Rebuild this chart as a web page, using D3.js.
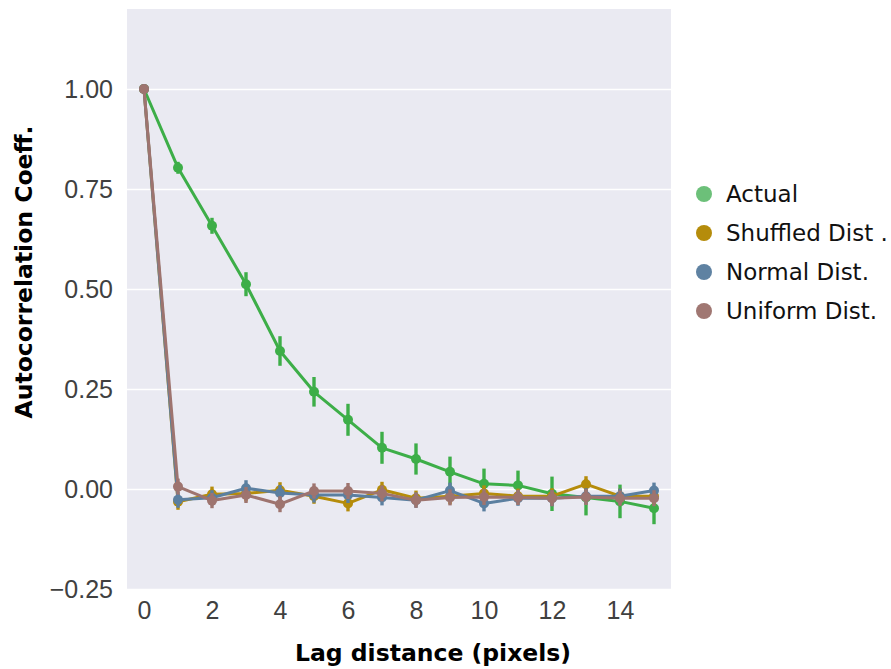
<!DOCTYPE html>
<html>
<head>
<meta charset="utf-8">
<script src="https://cdn.jsdelivr.net/npm/d3@7"></script>
<style>
  body { margin: 0; background: #fff; }
  svg { display: block; }
</style>
</head>
<body>
<svg id="chart" width="891" height="669"></svg>
<script>
// lag distances 0..15
const lags = d3.range(0, 16);

const actual   = [1.00, 0.803, 0.658, 0.512, 0.345, 0.243, 0.173, 0.103, 0.075, 0.043, 0.013, 0.009, -0.012, -0.021, -0.031, -0.048];
const actualErr = [0.0, 0.015, 0.02, 0.03, 0.037, 0.037, 0.04, 0.04, 0.039, 0.038, 0.038, 0.037, 0.043, 0.045, 0.042, 0.04];

const shuffled = [1.00, -0.032, -0.013, -0.011, -0.003, -0.018, -0.036, -0.002, -0.023, -0.018, -0.011, -0.018, -0.018, 0.012, -0.018, -0.018];
const normal   = [1.00, -0.027, -0.022, 0.002, -0.010, -0.015, -0.015, -0.021, -0.028, -0.004, -0.036, -0.023, -0.023, -0.018, -0.018, -0.004];
const uniform  = [1.00, 0.006, -0.029, -0.015, -0.038, -0.005, -0.005, -0.011, -0.028, -0.021, -0.020, -0.021, -0.023, -0.020, -0.023, -0.023];
const nullErr  = [0.0, 0.02, 0.019, 0.02, 0.02, 0.019, 0.02, 0.02, 0.019, 0.02, 0.02, 0.019, 0.02, 0.02, 0.019, 0.02];

const seriesNames = ["Actual", "Shuffled Dist .", "Normal Dist.", "Uniform Dist."];
const seriesColors = ["#3dae48", "#b58c0b", "#5b7fa0", "#9e746f"];
const legendColors = ["#6cc079", "#b58c0b", "#5f82a2", "#a07772"];

const yTicks = [-0.25, 0.00, 0.25, 0.50, 0.75, 1.00];
const xTicks = [0, 2, 4, 6, 8, 10, 12, 14];

const series = [
  { name: seriesNames[0], values: actual, err: actualErr },
  { name: seriesNames[1], values: shuffled, err: nullErr },
  { name: seriesNames[2], values: normal, err: nullErr },
  { name: seriesNames[3], values: uniform, err: nullErr }
];

const svg = d3.select('#chart');

const plotLeft = 127, plotRight = 671, plotTop = 9, plotBottom = 589;

const x = d3.scaleLinear().domain([-0.5, 15.5]).range([plotLeft, plotRight]);
const y = d3.scaleLinear().domain([-0.25, 1.2]).range([plotBottom, plotTop]);

// background
svg.append('rect')
  .attr('x', plotLeft).attr('y', plotTop)
  .attr('width', plotRight - plotLeft).attr('height', plotBottom - plotTop)
  .attr('fill', '#eaeaf2');

// horizontal grid
svg.append('g')
  .attr('transform', `translate(${plotLeft},0)`)
  .call(d3.axisLeft(y).tickValues(yTicks).tickSize(-(plotRight - plotLeft)).tickFormat(''))
  .call(g => g.select('.domain').remove())
  .call(g => g.selectAll('line').attr('stroke', '#fff').attr('stroke-width', 1.6));

// y axis labels
svg.append('g')
  .attr('transform', `translate(${plotLeft},0)`)
  .call(d3.axisLeft(y).tickValues(yTicks).tickSize(0).tickPadding(14)
    .tickFormat(d => d3.format('.2f')(d).replace('-', '\u2212')))
  .call(g => g.select('.domain').remove())
  .call(g => g.selectAll('text')
    .attr('font-family', 'Liberation Sans, Arial, sans-serif')
    .attr('font-size', 25).attr('fill', '#404040'));

// x axis labels
svg.append('g')
  .attr('transform', `translate(0,${plotBottom})`)
  .call(d3.axisBottom(x).tickValues(xTicks).tickSize(0).tickPadding(12).tickFormat(d3.format('d')))
  .call(g => g.select('.domain').remove())
  .call(g => g.selectAll('text')
    .attr('font-family', 'Liberation Sans, Arial, sans-serif')
    .attr('font-size', 25).attr('fill', '#404040'));

// axis titles
svg.append('text')
  .attr('x', 433).attr('y', 661)
  .attr('text-anchor', 'middle')
  .attr('font-family', 'DejaVu Sans, sans-serif')
  .attr('font-weight', 'bold').attr('font-size', 23.5)
  .text('Lag distance (pixels)');

svg.append('text')
  .attr('transform', 'translate(32,272) rotate(-90)')
  .attr('text-anchor', 'middle')
  .attr('font-family', 'DejaVu Sans, sans-serif')
  .attr('font-weight', 'bold').attr('font-size', 23.5)
  .text('Autocorrelation Coeff.');

// series
const line = d3.line()
  .x((d, i) => x(lags[i]))
  .y(d => y(d));

series.forEach((s, k) => {
  const g = svg.append('g');
  const col = seriesColors[k];

  g.selectAll('line.err')
    .data(s.values)
    .enter()
    .append('line')
    .attr('x1', (d, i) => x(lags[i]))
    .attr('x2', (d, i) => x(lags[i]))
    .attr('y1', (d, i) => y(d - s.err[i]))
    .attr('y2', (d, i) => y(d + s.err[i]))
    .attr('stroke', col).attr('stroke-width', 3.4);

  g.append('path')
    .datum(s.values)
    .attr('d', line)
    .attr('fill', 'none')
    .attr('stroke', col).attr('stroke-width', 3)
    .attr('stroke-linejoin', 'round');

  g.selectAll('circle')
    .data(s.values)
    .enter()
    .append('circle')
    .attr('cx', (d, i) => x(lags[i]))
    .attr('cy', d => y(d))
    .attr('r', 5)
    .attr('fill', col);
});

// legend
const legend = svg.append('g');
seriesNames.forEach((name, k) => {
  const ly = 194 + k * 39;
  legend.append('circle')
    .attr('cx', 704).attr('cy', ly).attr('r', 8)
    .attr('fill', legendColors[k]);
  legend.append('text')
    .attr('x', 726).attr('y', ly + 8)
    .attr('font-family', 'DejaVu Sans, sans-serif')
    .attr('font-size', 23).attr('fill', '#111')
    .text(name);
});
</script>
</body>
</html>
